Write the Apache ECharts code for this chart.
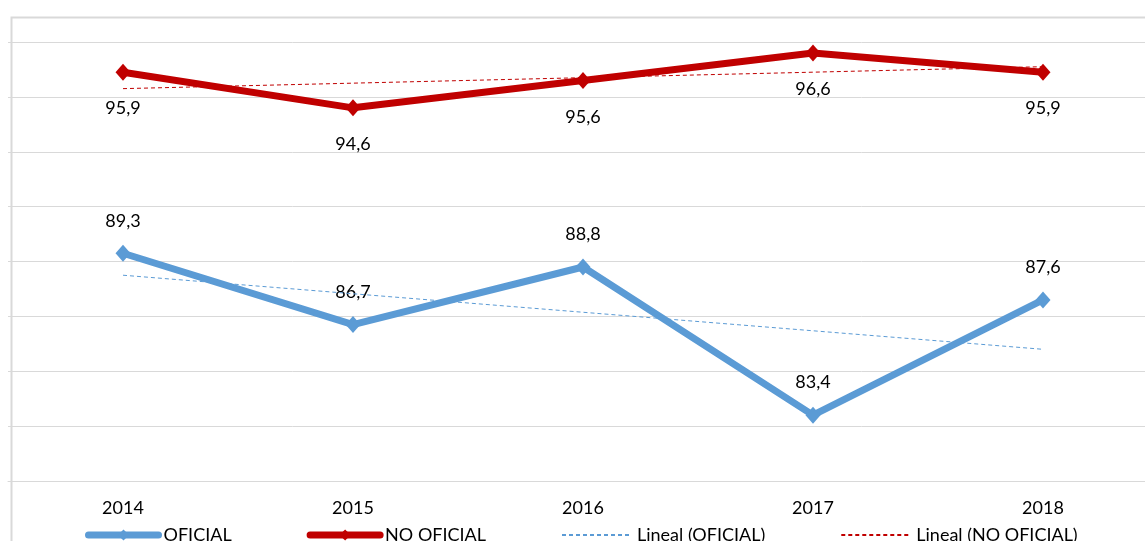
<!DOCTYPE html>
<html>
<head>
<meta charset="utf-8">
<script src="https://cdn.jsdelivr.net/npm/echarts@6/dist/echarts.min.js"></script>
<style>
	html, body { margin: 0; padding: 0; background: #fff; }
	#chart { width: 1145px; height: 541px; }
</style>
</head>
<body>
<div id="chart"></div>
<script>
var years = ['2014', '2015', '2016', '2017', '2018'];
var oficial = [89.3, 86.7, 88.8, 83.4, 87.6];
var noOficial = [95.9, 94.6, 95.6, 96.6, 95.9];
// trend line ends
var trendOficial = [88.5, 85.8];
var trendNoOficial = [95.3, 96.1];

var font = 'Lato';
var blue = '#5b9bd5';
var red = '#c00000';

var myChart = echarts.init(document.getElementById('chart'));

var option = {
	backgroundColor: '#fff',
	animation: false,
	textStyle: { fontFamily: font },
	grid: { left: 8, top: 42, bottom: 60, width: 1150, outerBoundsMode: 'none' },
	graphic: [{
		type: 'rect',
		left: 9, top: 15,
		shape: { width: 1300, height: 700 },
		style: { fill: 'none', stroke: '#d9d9d9', lineWidth: 2 },
		silent: true
	}],
	legend: {
		left: 80,
		top: 521,
		itemWidth: 70,
		itemHeight: 14,
		itemGap: 75,
		textStyle: { fontFamily: font, fontSize: 18, color: '#000' },
		data: [
			{ name: 'OFICIAL', lineStyle: { width: 7, cap: 'round' } },
			{ name: 'NO OFICIAL', lineStyle: { width: 7, cap: 'round' } },
			{ name: 'Lineal (OFICIAL)', itemStyle: { opacity: 0 } },
			{ name: 'Lineal (NO OFICIAL)', itemStyle: { opacity: 0 } }
		]
	},
	xAxis: {
		type: 'category',
		data: years,
		boundaryGap: true,
		axisLine: { lineStyle: { color: '#d9d9d9' } },
		axisTick: { show: false },
		axisLabel: { color: '#000', fontSize: 18, fontFamily: font, margin: 18 }
	},
	yAxis: {
		type: 'value',
		min: 81,
		max: 97,
		interval: 2,
		axisLabel: { show: false },
		axisLine: { show: false },
		axisTick: { show: false },
		splitLine: { lineStyle: { color: '#d9d9d9', width: 1 } }
	},
	series: [
		{
			name: 'OFICIAL',
			type: 'line',
			data: oficial,
			symbol: 'diamond',
			symbolSize: [15, 17],
			itemStyle: { color: blue },
			lineStyle: { color: blue, width: 7 },
			label: {
				show: true, position: 'top', distance: 15,
				color: '#000', fontSize: 18, fontFamily: font,
				formatter: function (p) { return p.value.toFixed(1).replace('.', ','); }
			},
			z: 3
		},
		{
			name: 'NO OFICIAL',
			type: 'line',
			data: noOficial,
			symbol: 'diamond',
			symbolSize: [15, 17],
			itemStyle: { color: red },
			lineStyle: { color: red, width: 7 },
			label: {
				show: true, position: 'bottom', distance: 19,
				color: '#000', fontSize: 18, fontFamily: font,
				formatter: function (p) { return p.value.toFixed(1).replace('.', ','); }
			},
			z: 3
		},
		{
			name: 'Lineal (OFICIAL)',
			type: 'line',
			data: [[years[0], trendOficial[0]], [years[years.length - 1], trendOficial[1]]],
			symbol: 'none',
			itemStyle: { color: blue },
			lineStyle: { color: blue, width: 1, type: [4, 3] },
			z: 4
		},
		{
			name: 'Lineal (NO OFICIAL)',
			type: 'line',
			data: [[years[0], trendNoOficial[0]], [years[years.length - 1], trendNoOficial[1]]],
			symbol: 'none',
			itemStyle: { color: red },
			lineStyle: { color: red, width: 1, type: [4, 3] },
			z: 4
		}
	]
};

myChart.setOption(option);
</script>
</body>
</html>
